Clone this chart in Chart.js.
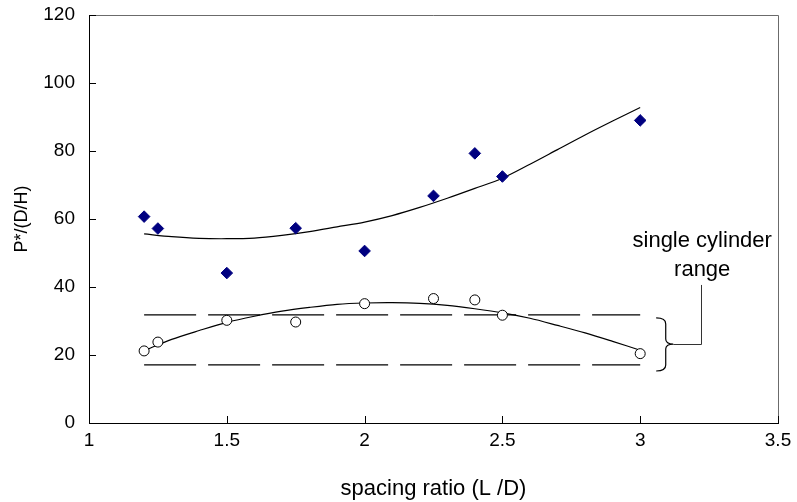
<!DOCTYPE html>
<html>
<head>
<meta charset="utf-8">
<script src="https://cdn.jsdelivr.net/npm/chart.js@4/dist/chart.umd.min.js"></script>
<style>
  html, body { margin: 0; padding: 0; background: #fff; }
  #wrap { width: 797px; height: 502px; }
</style>
</head>
<body>
<div id="wrap"><canvas id="c" width="797" height="502"></canvas></div>
<script>
// Measured points: spacing ratio L/D and normalised pressure P*/(D/H)
const spacing = [1.2, 1.25, 1.5, 1.75, 2.0, 2.25, 2.4, 2.5, 3.0];
const pressureGroup = [60.7, 57.2, 44.1, 57.3, 50.6, 66.8, 79.3, 72.5, 89.0];
const pressureSingle = [21.2, 23.8, 30.2, 29.7, 35.1, 36.6, 36.2, 31.7, 20.4];

// Trend curves through each set
const fitX = [1.2, 1.3, 1.4, 1.5, 1.6, 1.7, 1.8, 1.9, 2.0, 2.1, 2.2, 2.3, 2.4, 2.5, 2.6, 2.7, 2.8, 2.9, 3.0];
const fitGroup = [55.6, 54.8, 54.3, 54.2, 54.4, 55.2, 56.3, 57.7, 59.1, 61.0, 63.4, 66.1, 69.0, 72.0, 76.1, 80.4, 84.7, 88.8, 92.8];
const fitSingle = [21.3, 24.6, 27.2, 29.6, 31.4, 32.9, 34.0, 34.9, 35.3, 35.4, 35.2, 34.6, 33.6, 32.4, 30.8, 28.7, 26.5, 24.0, 21.4];

// Single cylinder range band
const rangeX = [1.2, 3.0];
const rangeLow = [17.1, 17.1];
const rangeHigh = [31.8, 31.8];

// Axis ticks
const xTicks = [1, 1.5, 2, 2.5, 3, 3.5];
const yTicks = [0, 20, 40, 60, 80, 100, 120];

const toPts = (xs, ys) => xs.map((v, i) => ({ x: v, y: ys[i] }));

// Brace and label placed in data units
const note = {
  braceX0: 3.058, braceX1: 3.12, braceTop: 30.9, braceBottom: 15.3, braceMid: 23.2,
  leaderX: 3.222, leaderTop: 40.6,
  textX: 3.225, line1Y: 53.6, line2Y: 45.0
};

const FONT = "'Liberation Sans', Arial, sans-serif";

const framePlugin = {
  id: 'framePlugin',
  afterDatasetsDraw(chart) {
    const { ctx, chartArea: a, scales: { x, y } } = chart;
    ctx.save();
    // top and right edges of the plot box
    ctx.strokeStyle = '#6b6b6b';
    ctx.lineWidth = 1;
    ctx.beginPath();
    ctx.moveTo(a.left, Math.round(a.top) + 0.5);
    ctx.lineTo(Math.round(a.right) + 0.5, Math.round(a.top) + 0.5);
    ctx.lineTo(Math.round(a.right) + 0.5, a.bottom);
    ctx.stroke();

    // inward tick marks
    ctx.strokeStyle = '#000';
    ctx.beginPath();
    xTicks.forEach(v => {
      const px = Math.round(x.getPixelForValue(v)) + 0.5;
      ctx.moveTo(px, a.bottom);
      ctx.lineTo(px, a.bottom - 7);
    });
    yTicks.forEach(v => {
      const py = Math.round(y.getPixelForValue(v)) + 0.5;
      ctx.moveTo(a.left, py);
      ctx.lineTo(a.left + 7, py);
    });
    ctx.stroke();

    // curly brace marking the range
    const bx0 = x.getPixelForValue(note.braceX0);
    const bx1 = x.getPixelForValue(note.braceX1);
    const bt = y.getPixelForValue(note.braceTop);
    const bb = y.getPixelForValue(note.braceBottom);
    const bm = y.getPixelForValue(note.braceMid);
    const bc = (bx0 + bx1) / 2 + 1;
    ctx.strokeStyle = '#000';
    ctx.lineWidth = 1.2;
    ctx.beginPath();
    ctx.moveTo(bx0, bt);
    ctx.quadraticCurveTo(bc, bt, bc, bt + 6);
    ctx.lineTo(bc, bm - 5);
    ctx.quadraticCurveTo(bc, bm, bx1, bm);
    ctx.quadraticCurveTo(bc, bm, bc, bm + 5);
    ctx.lineTo(bc, bb - 6);
    ctx.quadraticCurveTo(bc, bb, bx0, bb);
    ctx.stroke();

    // leader line up to the label
    const lx = Math.round(x.getPixelForValue(note.leaderX)) + 0.5;
    const lt = y.getPixelForValue(note.leaderTop);
    ctx.strokeStyle = '#333';
    ctx.lineWidth = 1;
    ctx.beginPath();
    ctx.moveTo(bx1, Math.round(bm) + 0.5);
    ctx.lineTo(lx, Math.round(bm) + 0.5);
    ctx.lineTo(lx, lt);
    ctx.stroke();

    // label
    ctx.fillStyle = '#000';
    ctx.font = '22px ' + FONT;
    ctx.textAlign = 'center';
    ctx.textBaseline = 'middle';
    const tx = x.getPixelForValue(note.textX);
    ctx.fillText('single cylinder', tx, y.getPixelForValue(note.line1Y));
    ctx.fillText('range', tx, y.getPixelForValue(note.line2Y));
    ctx.restore();
  }
};

new Chart(document.getElementById('c'), {
  type: 'scatter',
  data: {
    datasets: [
      {
        label: 'group',
        data: toPts(spacing, pressureGroup),
        pointStyle: 'rectRot',
        pointRadius: 5.8,
        backgroundColor: '#000080',
        borderColor: '#000080',
        borderWidth: 1,
        order: 0
      },
      {
        label: 'single',
        data: toPts(spacing, pressureSingle),
        pointStyle: 'circle',
        pointRadius: 5,
        backgroundColor: '#ffffff',
        borderColor: '#000000',
        borderWidth: 1,
        order: 1
      },
      {
        label: 'group trend',
        type: 'line',
        data: toPts(fitX, fitGroup),
        borderColor: '#000',
        borderWidth: 1.2,
        pointRadius: 0,
        tension: 0.3,
        fill: false,
        order: 2
      },
      {
        label: 'single trend',
        type: 'line',
        data: toPts(fitX, fitSingle),
        borderColor: '#000',
        borderWidth: 1.2,
        pointRadius: 0,
        tension: 0.3,
        fill: false,
        order: 2
      },
      {
        label: 'range high',
        type: 'line',
        data: toPts(rangeX, rangeHigh),
        borderColor: '#000',
        borderWidth: 1.2,
        borderDash: [52, 12],
        pointRadius: 0,
        fill: false,
        order: 3
      },
      {
        label: 'range low',
        type: 'line',
        data: toPts(rangeX, rangeLow),
        borderColor: '#000',
        borderWidth: 1.2,
        borderDash: [52, 12],
        pointRadius: 0,
        fill: false,
        order: 3
      }
    ]
  },
  options: {
    responsive: false,
    animation: false,
    events: [],
    layout: { padding: { top: 15, right: 19, left: 0, bottom: 0 } },
    plugins: { legend: { display: false }, tooltip: { enabled: false } },
    scales: {
      x: {
        type: 'linear',
        min: 1, max: 3.5,
        afterFit: s => { s.height = 79; s.paddingLeft = 0; s.paddingRight = 0; },
        afterBuildTicks: s => { s.ticks = xTicks.map(v => ({ value: v })); },
        grid: { display: false, drawTicks: false },
        border: { color: '#000', width: 1 },
        ticks: {
          color: '#000', padding: 6, font: { family: FONT, size: 19 },
          callback: v => String(v)
        },
        title: {
          display: true,
          text: 'spacing ratio (L /D)',
          color: '#000',
          padding: { top: 1, bottom: 0 },
          font: { family: FONT, size: 22 }
        }
      },
      y: {
        type: 'linear',
        min: 0, max: 120,
        afterFit: s => { s.width = 89; s.paddingTop = 0; s.paddingBottom = 0; },
        afterBuildTicks: s => { s.ticks = yTicks.map(v => ({ value: v })); },
        grid: { display: false, drawTicks: false },
        border: { color: '#000', width: 1 },
        ticks: {
          color: '#000', padding: 14, font: { family: FONT, size: 19 },
          callback: v => String(v)
        },
        title: {
          display: true,
          text: 'P*/(D/H)',
          color: '#000',
          padding: { top: 11, bottom: 0 },
          font: { family: FONT, size: 18 }
        }
      }
    }
  },
  plugins: [framePlugin]
});
</script>
</body>
</html>
